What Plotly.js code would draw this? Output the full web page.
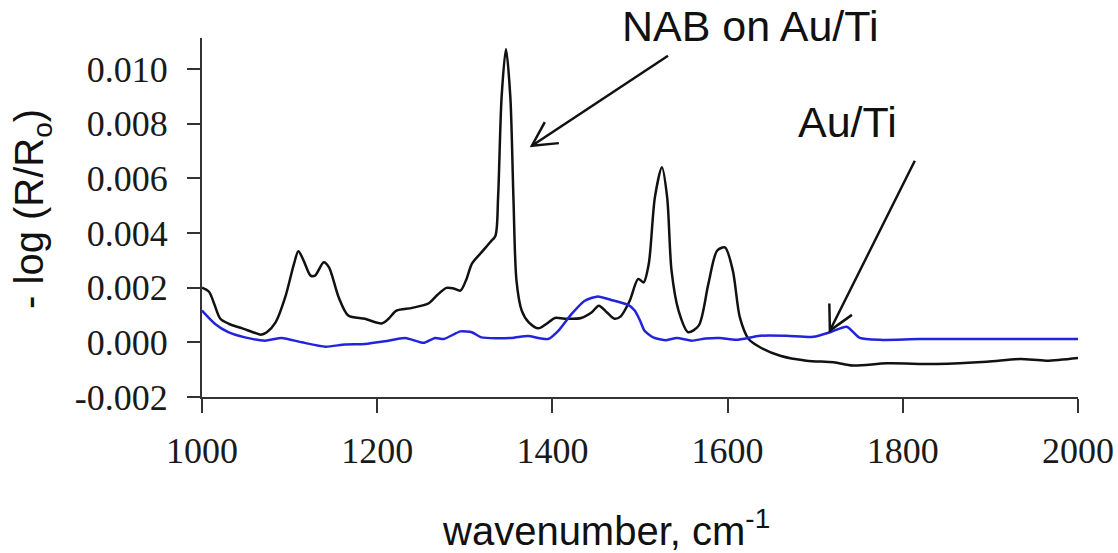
<!DOCTYPE html>
<html>
<head>
<meta charset="utf-8">
<script src="https://cdn.plot.ly/plotly-3.0.1.min.js"></script>
<style>html,body{margin:0;padding:0;background:#fff;}#chart{width:1118px;height:553px;}</style>
</head>
<body>
<div id="chart"></div>
<script>
// NAB on Au/Ti spectrum (black)
var nabWavenumber = [1000,1008,1014,1021,1031,1046,1060,1067,1074,1084,1095,1105,1110,1116,1124,1129,1139,1145,1156,1167,1186,1205,1213,1222,1240,1259,1268,1279,1287,1295,1302,1308,1319,1329,1335,1338,1342,1347,1352,1355.5,1359,1365,1373,1384,1393,1403,1414,1433,1445,1453,1462,1471,1478,1488,1498,1504,1510,1517,1525,1531,1536,1544,1555,1567,1578,1588,1597,1606,1614,1624,1637,1660,1690,1721,1743,1782,1839,1896,1934,1964,2000];
var nabSignal = [0.0020,0.00185,0.0014,0.00086,0.00067,0.00051,0.00035,0.00028,0.00037,0.00073,0.00165,0.00287,0.00333,0.00299,0.00244,0.00244,0.00293,0.00274,0.00165,0.00098,0.00086,0.00069,0.00086,0.00116,0.00126,0.00143,0.00171,0.00199,0.00197,0.00189,0.00232,0.00287,0.00329,0.00366,0.00390,0.0053,0.00896,0.01073,0.00896,0.0053,0.00226,0.00116,0.00073,0.00051,0.00067,0.00089,0.00086,0.00089,0.0011,0.00134,0.0011,0.00086,0.00095,0.0015,0.00232,0.00219,0.00287,0.0053,0.0064,0.0053,0.00262,0.00116,0.00037,0.00061,0.00213,0.00335,0.00347,0.00262,0.00091,0.00012,-0.00018,-0.00049,-0.00067,-0.00073,-0.00085,-0.00077,-0.00079,-0.00071,-0.00061,-0.00067,-0.00057];

// Au/Ti reference spectrum (blue)
var auWavenumber = [1000,1015,1030,1049,1072,1091,1114,1141,1163,1186,1209,1232,1253,1266,1276,1295,1308,1319,1353,1372,1395,1407,1422,1437,1452,1467,1487,1494,1500,1505,1515,1530,1542,1559,1575,1591,1610,1637,1667,1698,1717,1736,1751,1774,1819,1896,2000];
var auSignal = [0.00116,0.00067,0.00037,0.00018,0.00006,0.00016,0.0,-0.00016,-0.00008,-0.00006,0.00004,0.00016,-0.00002,0.00016,0.00012,0.0004,0.00037,0.00018,0.00016,0.00023,0.00012,0.00043,0.00104,0.00152,0.00168,0.00155,0.00136,0.00116,0.0008,0.00043,0.00018,0.00008,0.00016,0.00006,0.00014,0.00016,0.00009,0.00024,0.00024,0.0002,0.00037,0.00057,0.00016,0.00009,0.00012,0.00012,0.00012];

var xTickVals = [1000,1200,1400,1600,1800,2000];
var xTickText = ['1000','1200','1400','1600','1800','2000'];
var yTickVals = [-0.002,0,0.002,0.004,0.006,0.008,0.010];
var yTickText = ['-0.002','0.000','0.002','0.004','0.006','0.008','0.010'];

var traces = [
  {x: nabWavenumber, y: nabSignal, type: 'scatter', mode: 'lines',
   line: {color: '#111111', width: 2.5, shape: 'spline', smoothing: 0.8}, hoverinfo: 'skip'},
  {x: auWavenumber, y: auSignal, type: 'scatter', mode: 'lines',
   line: {color: '#2323dc', width: 2.5, shape: 'spline', smoothing: 0.6}, hoverinfo: 'skip'}
];

var tickFont = {family: '"Liberation Serif", "Times New Roman", serif', size: 36, color: '#1a1a1a'};
var sansFont = {family: '"Liberation Sans", Arial, sans-serif', size: 40, color: '#111'};
var labelFont = {family: '"Liberation Sans", Arial, sans-serif', size: 43, color: '#111'};

var layout = {
  width: 1118, height: 553,
  margin: {l: 202, r: 40, t: 38, b: 156},
  paper_bgcolor: '#fff', plot_bgcolor: '#fff',
  showlegend: false,
  xaxis: {
    range: [1000, 2000], tickvals: xTickVals, ticktext: xTickText,
    showgrid: false, zeroline: false, showline: true, linecolor: '#333', linewidth: 2,
    ticks: 'outside', ticklen: 14, tickwidth: 2, tickcolor: '#333',
    ticklabelstandoff: 7,
    tickfont: tickFont
  },
  yaxis: {
    range: [-0.002, 0.01113], tickvals: yTickVals, ticktext: yTickText,
    showgrid: false, zeroline: false, showline: true, linecolor: '#333', linewidth: 2,
    ticks: 'outside', ticklen: 13, tickwidth: 2, tickcolor: '#333',
    ticklabelstandoff: 12,
    tickfont: tickFont
  },
  annotations: [
    {text: 'NAB on Au/Ti', xref: 'paper', yref: 'paper', x: 0.6256, y: 1.0334,
     xanchor: 'center', yanchor: 'middle', showarrow: false, font: labelFont},
    {text: 'Au/Ti', xref: 'paper', yref: 'paper', x: 0.7374, y: 0.766,
     xanchor: 'center', yanchor: 'middle', showarrow: false, font: labelFont},
    {text: '- log (R/R<sub>o</sub>)', xref: 'paper', yref: 'paper', x: -0.194, y: 0.524,
     xanchor: 'center', yanchor: 'middle', textangle: -90, showarrow: false, font: sansFont},
    {text: 'wavenumber, cm<sup>-1</sup>', xref: 'paper', yref: 'paper', x: 0.461, y: -0.365,
     xanchor: 'center', yanchor: 'middle', showarrow: false, font: sansFont}
  ],
  shapes: [
    {type: 'line', xref: 'x', yref: 'y', x0: 1376.6, y0: 0.00719, x1: 1532, y1: 0.01048,
     line: {color: '#111', width: 2.5}},
    {type: 'path', xref: 'x', yref: 'y', xsizemode: 'pixel', ysizemode: 'pixel',
     xanchor: 1376.6, yanchor: 0.00719, path: 'M 27,2.6 L 0,0 L 12.9,23.7',
     line: {color: '#111', width: 2.5}},
    {type: 'line', xref: 'x', yref: 'y', x0: 1716.8, y0: 0.00043, x1: 1813.7, y1: 0.00664,
     line: {color: '#111', width: 2.5}},
    {type: 'path', xref: 'x', yref: 'y', xsizemode: 'pixel', ysizemode: 'pixel',
     xanchor: 1716.8, yanchor: 0.00043, path: 'M 22,15.7 L 0,0 L -0.6,27',
     line: {color: '#111', width: 2.5}}
  ]
};

Plotly.newPlot('chart', traces, layout, {staticPlot: true, displayModeBar: false});
</script>
</body>
</html>
